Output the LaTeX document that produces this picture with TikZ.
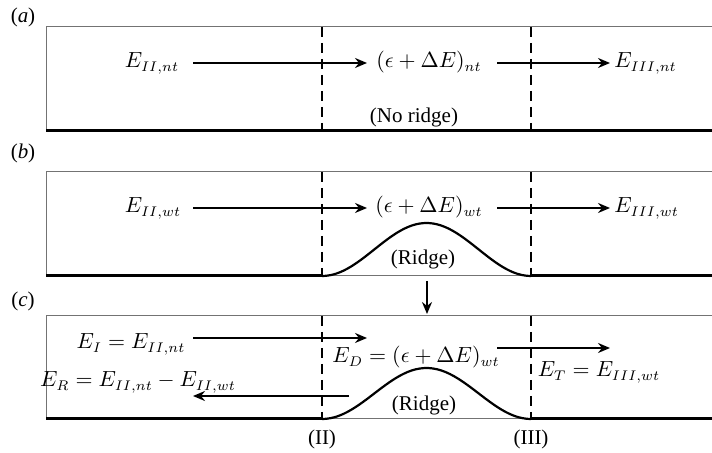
\documentclass[tikz,border=0pt]{standalone}
\usepackage{amsmath}
\usepackage{fontspec}
\setmainfont{Liberation Serif}
\usetikzlibrary{arrows.meta,positioning}

\begin{document}
\begin{tikzpicture}[
  x=0.5pt, y=-0.5pt,
  every node/.style={font=\fontsize{10.5}{12}\selectfont, inner sep=0pt},
  lbl/.style={anchor=base},
  arr/.style={-{Stealth[length=6pt,width=5pt,inset=2pt]}, line width=1.1pt},
  cut/.style={dash pattern=on 5pt off 3pt, line width=0.9pt},
  frame/.style={draw=black!55, line width=0.5pt},
  ground/.style={line width=1.5pt},
  ridge/.style={line width=1.1pt}
]
\useasboundingbox (0,0) rectangle (712,453);
% (a) no ridge
\node[lbl] (la) at (23,23) {(\textit{a})};
\draw[frame] (712,27) -- (46,27) -- (46,131);
\draw[ground] (46,131) -- (712,131);
\draw[cut] (322,27) -- (322,131);
\draw[cut] (531,27) -- (531,131);
\node[lbl] (ea) at (152,68) {$E_{II,nt}$};
\node[lbl] (ma) at (429,68) {$(\epsilon+\Delta E)_{nt}$};
\node[lbl, anchor=base west] (ra) at (614,68) {$E_{III,nt}$};
\node[lbl] (na) at (414,123) {(No ridge)};
\coordinate (a1) at (193,63);
\coordinate (a2) at (367,63);
\coordinate (a3) at (497,63);
\coordinate (a4) at (610,63);
\draw[arr] (a1)--(a2);
\draw[arr] (a3)--(a4);
% (b) with ridge
\node[lbl] (lb) at (23,159) {(\textit{b})};
\draw[frame] (712,172) -- (46,172) -- (46,276) -- (712,276);
\draw[ground] (46,276) -- (322,276);
\draw[ground] (531,276) -- (712,276);
\draw[ridge] plot[domain=0:1, samples=50, smooth] ({322+209*\x},{276-53*(1-cos(360*\x))/2});
\draw[cut] (322,172) -- (322,276);
\draw[cut] (531,172) -- (531,276);
\node[lbl] (eb) at (153,213) {$E_{II,wt}$};
\node[lbl] (mb) at (429,213) {$(\epsilon+\Delta E)_{wt}$};
\node[lbl, anchor=base west] (rb) at (614,213) {$E_{III,wt}$};
\node[lbl] (nb) at (423,265) {(Ridge)};
\coordinate (b1) at (193,208);
\coordinate (b2) at (367,208);
\coordinate (b3) at (497,208);
\coordinate (b4) at (610,208);
\draw[arr] (b1)--(b2);
\draw[arr] (b3)--(b4);
\coordinate (d1) at (427,281);
\coordinate (d2) at (427,314);
\draw[arr] (d1)--(d2);
% (c) energy balance
\node[lbl] (lc) at (23,307) {(\textit{c})};
\draw[frame] (712,316) -- (46,316) -- (46,419) -- (712,419);
\draw[ground] (46,419) -- (322,419);
\draw[ground] (531,419) -- (712,419);
\draw[ridge] plot[domain=0:1, samples=50, smooth] ({322+209*\x},{419-51*(1-cos(360*\x))/2});
\draw[cut] (322,316) -- (322,419);
\draw[cut] (531,316) -- (531,419);
\node[lbl] (ec) at (131,349) {$E_I = E_{II,nt}$};
\node[lbl] (rc) at (138,387) {$E_R = E_{II,nt} - E_{II,wt}$};
\node[lbl] (dc) at (416,363) {$E_D = (\epsilon+\Delta E)_{wt}$};
\node[lbl] (tc) at (599,377) {$E_T = E_{III,wt}$};
\node[lbl] (nc) at (424,411) {(Ridge)};
\node[lbl] (p2) at (322,445) {(II)};
\node[lbl] (p3) at (531,445) {(III)};
\coordinate (c1) at (193,338);
\coordinate (c2) at (367,338);
\coordinate (c3) at (497,348);
\coordinate (c4) at (610,348);
\coordinate (c5) at (349,396);
\coordinate (c6) at (193,396);
\draw[arr] (c1)--(c2);
\draw[arr] (c3)--(c4);
\draw[arr] (c5)--(c6);
\end{tikzpicture}
\end{document}
